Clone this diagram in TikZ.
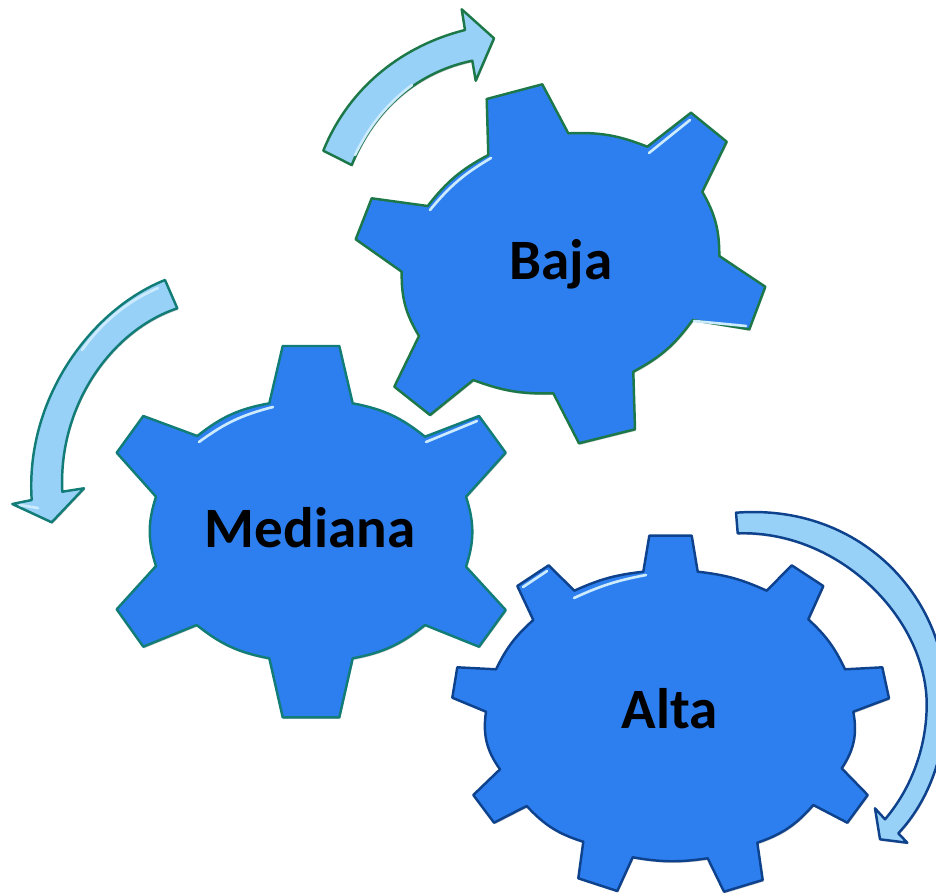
\documentclass[tikz,border=0pt]{standalone}
\usepackage{fontspec}
\setmainfont{Carlito}
\usetikzlibrary{shadows}
\definecolor{gearColor}{RGB}{45,127,240}
\definecolor{arrowColor}{RGB}{152,209,248}
\definecolor{bajaColor}{RGB}{28,120,72}
\definecolor{medianaColor}{RGB}{18,125,118}
\definecolor{altaColor}{RGB}{14,66,140}
\definecolor{bevelColor}{RGB}{205,235,255}

\begin{document}
\begin{tikzpicture}[x=0.02cm,y=-0.02cm,line join=round]
    \tikzstyle{soft} = [drop shadow={shadow xshift=0.5pt,shadow yshift=-0.9pt,opacity=.22,fill=black}]
    \tikzstyle{gear} = [soft,fill=gearColor,line width=1.4pt]
    \tikzstyle{turn} = [soft,fill=arrowColor,line width=1.4pt]
    \tikzstyle{bevel} = [draw=bevelColor,line width=1.5pt,line cap=round]
    \tikzstyle{label} = [font=\bfseries\fontsize{32.5}{33}\selectfont,text=black,inner sep=0pt]

    \clip (0,0) rectangle (936,893);

    \draw [turn,draw=bajaColor] (323.3,150.7) .. controls (350,85) and (405,45) .. (465,30)
        -- (461.7,9.3) -- (494,38.3) -- (475.7,80.7) -- (472.3,60.7)
        .. controls (418,72) and (375,108) .. (351.7,165) -- cycle;
    \draw [bevel] (355,155) .. controls (372,120) and (392,100) .. (412,85);

    \draw [gear,draw=bajaColor] (486.7,99) -- (542.3,84.3) -- (568.3,133.3)
        to[bend left=12] (647.3,146.7) -- (691,112.7) -- (726.7,141.7) -- (702.3,191.7)
        to[bend left=15] (719.3,256) -- (765.3,286.7) -- (749.3,329.3) -- (692.7,320)
        to[bend left=13] (633.3,371.7) -- (635,429.3) -- (579,443.3) -- (553.3,393.3)
        to[bend left=11] (473.3,380) -- (430,415) -- (394.3,386.7) -- (419,336)
        to[bend left=16] (401.7,271.7) -- (355.7,239.3) -- (371.7,198.3) -- (427.7,206)
        to[bend left=12] (488.3,155) -- cycle;
    \draw [bevel] (430,210) to[bend left=10] (491,158);
    \draw [bevel] (649,153) -- (690,120);
    \draw [bevel] (694,321) -- (746,326);

    \draw [turn,draw=medianaColor] (165,280) .. controls (90,310) and (25,400) .. (31.7,500)
        -- (12.3,504) -- (51.7,522.3) -- (84,488.3) -- (62.3,491.7)
        .. controls (58,405) and (112,330) .. (177.3,308.3) -- cycle;
    \draw [bevel] (158,288) .. controls (125,302) and (100,325) .. (82,350);
    \draw [bevel] (20,505) -- (38,508);

    \draw [gear,draw=medianaColor] (282.7,346) -- (339.3,346) -- (352.7,403.3)
        to[bend left=14] (425,436.7) -- (479,416) -- (505.7,452.7) -- (466,496.7)
        to[bend left=18] (466,566.7) -- (505.7,610) -- (479,646.7) -- (425,625)
        to[bend left=14] (352.7,658.3) -- (339.3,717.3) -- (282.7,717.3) -- (269.3,658.3)
        to[bend left=14] (196.7,625) -- (143.3,646.7) -- (116.7,609.3) -- (156,566)
        to[bend left=18] (156,496.7) -- (116.7,452.7) -- (143.3,416) -- (197.3,436)
        to[bend left=14] (269.3,403.3) -- cycle;
    \draw [bevel] (199,442) to[bend left=11] (273,407);
    \draw [bevel] (426,442) -- (477,421);

    \draw [turn,draw=altaColor] (736,512.7) .. controls (860,503) and (947,597) .. (946,700)
        .. controls (946,760) and (925,805) .. (898.3,833.3)
        -- (907.3,842.7) -- (880,839.3) -- (875,808.3) -- (885,819.3)
        .. controls (910,790) and (926,750) .. (926.7,706.7)
        .. controls (928,620) and (840,530) .. (737.7,533.3) -- cycle;

    \draw [gear,draw=altaColor] (649.3,535.7) -- (691.7,535.7) -- (697.7,571.7)
        to[bend left=9] (766.7,590.7) -- (791.7,565.3) -- (823.3,586) -- (808.3,619.3)
        to[bend left=11] (845,669.3) -- (882.3,667.3) -- (889,698.3) -- (853.3,711.7)
        to[bend left=22] (841.7,768.3) -- (867.7,795) -- (847.3,822.7) -- (813.3,805)
        to[bend left=15] (757.3,842.7) -- (762.7,880) -- (724,891.7) -- (707.7,858.3)
        to[bend left=9] (632.7,857.3) -- (617.3,891) -- (578.3,878.3) -- (583.3,841.7)
        to[bend left=15] (526.7,806) -- (494,822.7) -- (473.3,795) -- (500,769.3)
        to[bend left=22] (486,711.7) -- (452.3,697.7) -- (457.3,667.3) -- (496,669.3)
        to[bend left=11] (533.3,620) -- (517.3,586) -- (548.7,565.3) -- (574.3,590.7)
        to[bend left=9] (643.3,571.7) -- cycle;
    \draw [bevel] (574,598) to[bend left=7] (646,575);
    \draw [bevel] (523,587) -- (547,571);

    \node [label] (baja) at (561,264) {Baja};
    \node [label] (mediana) at (310,528) {Mediana};
    \node [label] (alta) at (670,709) {Alta};
\end{tikzpicture}
\end{document}
